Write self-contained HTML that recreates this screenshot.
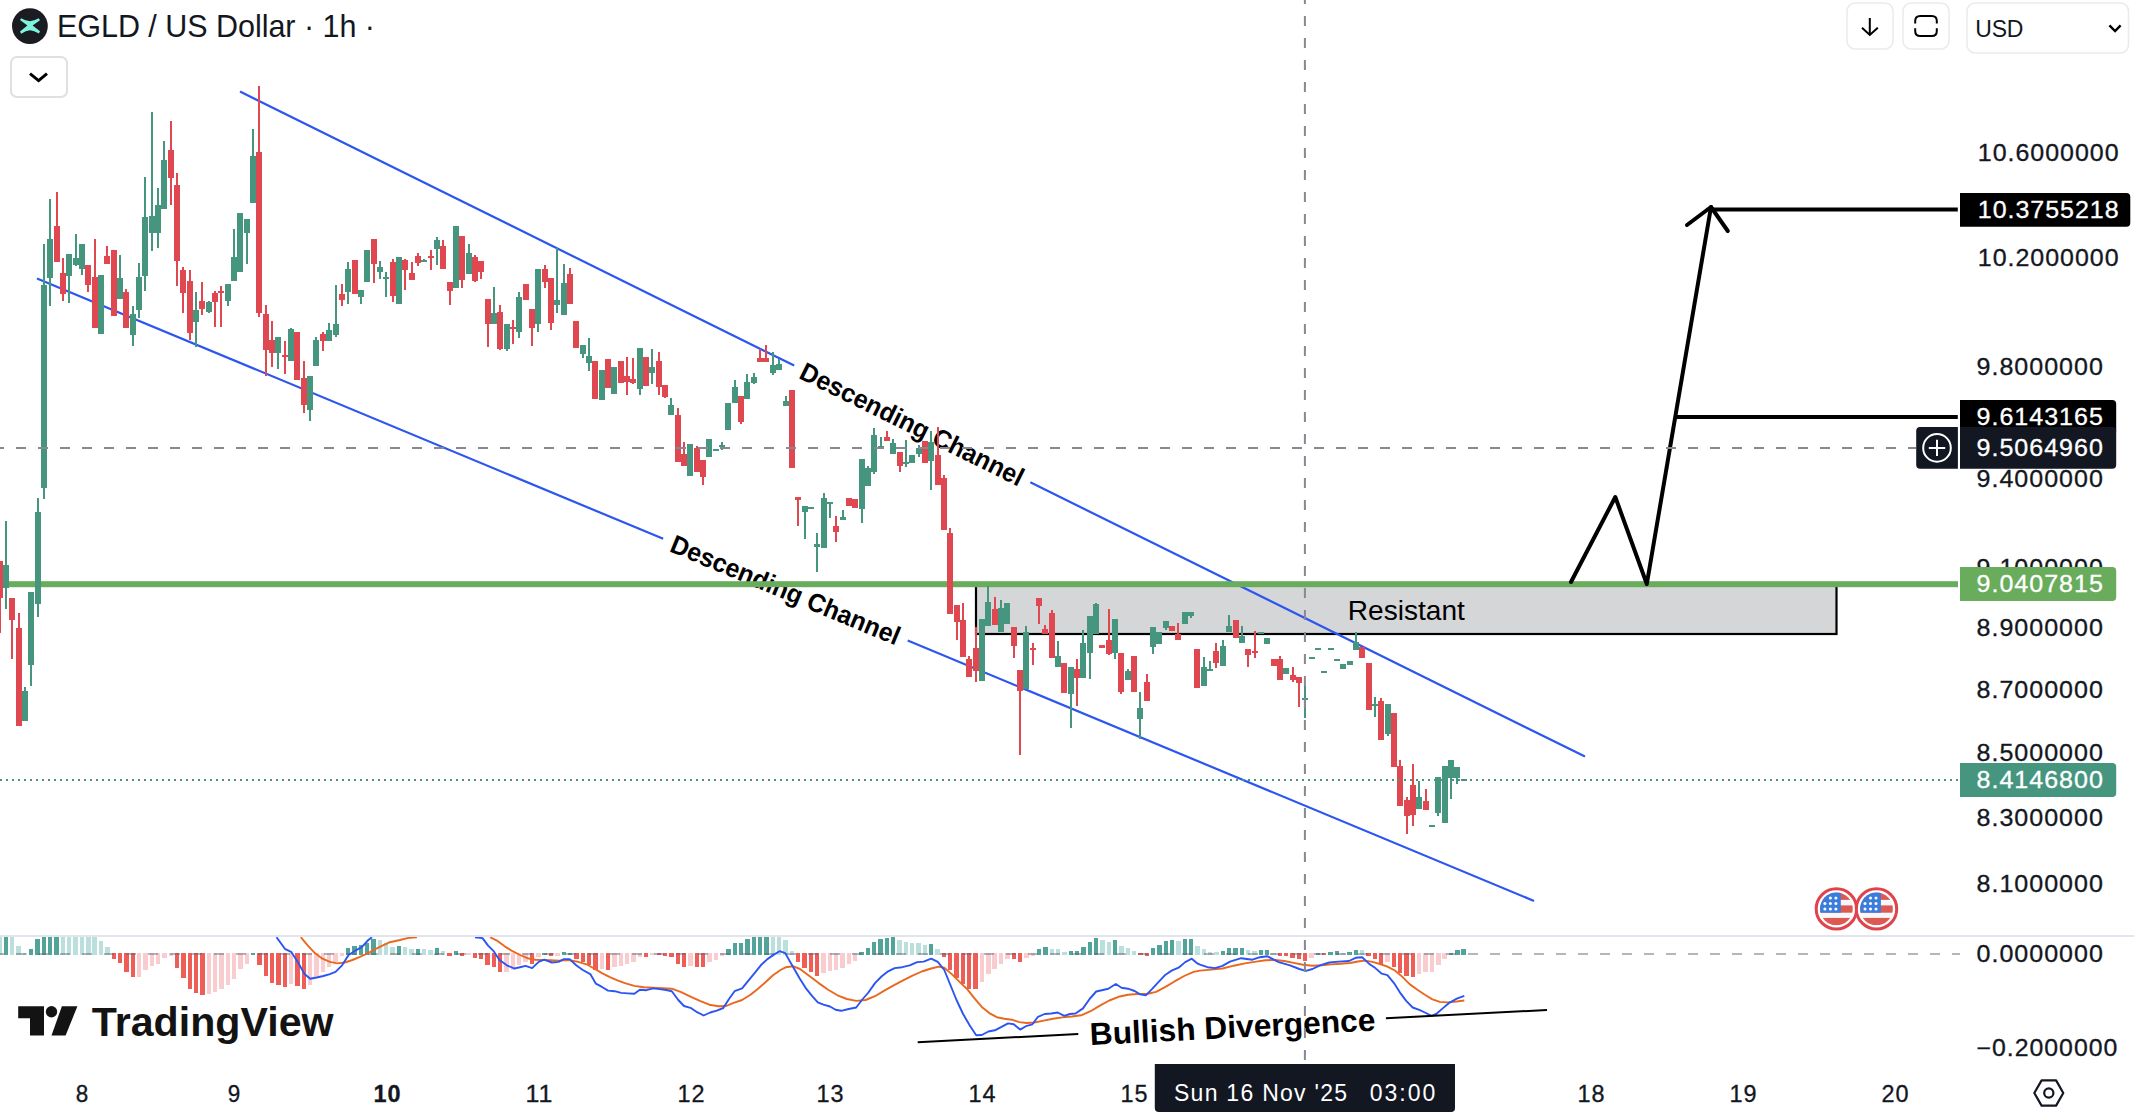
<!DOCTYPE html>
<html><head><meta charset="utf-8"><title>EGLD / US Dollar</title>
<style>html,body{margin:0;padding:0;background:#fff;overflow:hidden}svg{display:block}</style>
</head><body>
<svg width="2134" height="1116" viewBox="0 0 2134 1116" font-family="'Liberation Sans', sans-serif">
<rect width="2134" height="1116" fill="#fff"/>
<defs><clipPath id="cm"><rect x="0" y="0" width="2134" height="935"/></clipPath><clipPath id="cp"><rect x="0" y="937" width="2134" height="125"/></clipPath></defs>
<g clip-path="url(#cm)">
<rect x="976" y="584" width="860.5" height="50" fill="#d5d6d8" stroke="#000" stroke-width="2.2"/>
<line x1="240.0" y1="91.6" x2="794.2" y2="365.6" stroke="#2c56f0" stroke-width="2.2" />
<line x1="1030.3" y1="482.3" x2="1585.0" y2="756.6" stroke="#2c56f0" stroke-width="2.2" />
<line x1="37.0" y1="278.4" x2="663.2" y2="538.8" stroke="#2c56f0" stroke-width="2.2" />
<line x1="907.7" y1="640.5" x2="1534.0" y2="900.9" stroke="#2c56f0" stroke-width="2.2" />
<text transform="translate(912.2,424.0) rotate(26.31)" x="0" y="9.2" text-anchor="middle" font-size="26" font-weight="700" fill="#000" textLength="246" lengthAdjust="spacingAndGlyphs">Descending Channel</text>
<text transform="translate(785.5,589.7) rotate(22.58)" x="0" y="9.2" text-anchor="middle" font-size="26" font-weight="700" fill="#000" textLength="246" lengthAdjust="spacingAndGlyphs">Descending Channel</text>
<rect x="0" y="581.2" width="1958" height="6" fill="#68ac5c"/>
<polyline points="1571,582 1615.3,497 1646.8,584 1711,207" fill="none" stroke="#000" stroke-width="4" stroke-linejoin="round" stroke-linecap="round"/>
<polyline points="1687,225 1711,207 1727.8,231" fill="none" stroke="#000" stroke-width="4" stroke-linejoin="round" stroke-linecap="round"/>
<line x1="1711" y1="209.6" x2="1957.8" y2="209.6" stroke="#000" stroke-width="4"/>
<line x1="1677" y1="417" x2="1957.8" y2="417" stroke="#000" stroke-width="4"/>
<text x="1347.8" y="620" font-size="27.5" fill="#000" textLength="117" lengthAdjust="spacingAndGlyphs">Resistant</text>
<rect x="-1" y="561" width="2" height="72" fill="#df4850"/>
<rect x="-3" y="561" width="6" height="37" fill="#df4850"/>
<rect x="5" y="521" width="2" height="88" fill="#46967f"/>
<rect x="3" y="565" width="6" height="23" fill="#46967f"/>
<rect x="11" y="598" width="2" height="61" fill="#df4850"/>
<rect x="9" y="598" width="6" height="22" fill="#df4850"/>
<rect x="18" y="613" width="2" height="113" fill="#df4850"/>
<rect x="16" y="628" width="6" height="98" fill="#df4850"/>
<rect x="24" y="687" width="2" height="34" fill="#46967f"/>
<rect x="22" y="691" width="6" height="30" fill="#46967f"/>
<rect x="30" y="592" width="2" height="94" fill="#46967f"/>
<rect x="28" y="592" width="6" height="73" fill="#46967f"/>
<rect x="37" y="498" width="2" height="119" fill="#46967f"/>
<rect x="35" y="512" width="6" height="92" fill="#46967f"/>
<rect x="43" y="244" width="2" height="255" fill="#46967f"/>
<rect x="41" y="285" width="6" height="203" fill="#46967f"/>
<rect x="49" y="199" width="2" height="107" fill="#46967f"/>
<rect x="47" y="239" width="6" height="39" fill="#46967f"/>
<rect x="56" y="192" width="2" height="70" fill="#df4850"/>
<rect x="54" y="226" width="6" height="36" fill="#df4850"/>
<rect x="62" y="258" width="2" height="43" fill="#df4850"/>
<rect x="60" y="273" width="6" height="21" fill="#df4850"/>
<rect x="68" y="254" width="2" height="49" fill="#46967f"/>
<rect x="66" y="254" width="6" height="22" fill="#46967f"/>
<rect x="75" y="234" width="2" height="32" fill="#46967f"/>
<rect x="73" y="258" width="6" height="7" fill="#46967f"/>
<rect x="81" y="244" width="2" height="31" fill="#46967f"/>
<rect x="79" y="244" width="6" height="25" fill="#46967f"/>
<rect x="87" y="265" width="2" height="27" fill="#df4850"/>
<rect x="85" y="265" width="6" height="20" fill="#df4850"/>
<rect x="94" y="239" width="2" height="89" fill="#df4850"/>
<rect x="92" y="277" width="6" height="51" fill="#df4850"/>
<rect x="98" y="275" width="6" height="59" fill="#46967f"/>
<rect x="106" y="246" width="2" height="18" fill="#df4850"/>
<rect x="104" y="256" width="6" height="8" fill="#df4850"/>
<rect x="111" y="250" width="6" height="66" fill="#df4850"/>
<rect x="119" y="255" width="2" height="44" fill="#46967f"/>
<rect x="117" y="278" width="6" height="21" fill="#46967f"/>
<rect x="125" y="289" width="2" height="39" fill="#df4850"/>
<rect x="123" y="292" width="6" height="36" fill="#df4850"/>
<rect x="132" y="306" width="2" height="40" fill="#46967f"/>
<rect x="130" y="314" width="6" height="21" fill="#46967f"/>
<rect x="138" y="263" width="2" height="55" fill="#46967f"/>
<rect x="136" y="277" width="6" height="33" fill="#46967f"/>
<rect x="144" y="177" width="2" height="114" fill="#46967f"/>
<rect x="142" y="217" width="6" height="59" fill="#46967f"/>
<rect x="151" y="112" width="2" height="139" fill="#46967f"/>
<rect x="149" y="216" width="6" height="17" fill="#46967f"/>
<rect x="157" y="188" width="2" height="60" fill="#46967f"/>
<rect x="155" y="205" width="6" height="28" fill="#46967f"/>
<rect x="163" y="141" width="2" height="68" fill="#46967f"/>
<rect x="161" y="160" width="6" height="49" fill="#46967f"/>
<rect x="170" y="121" width="2" height="84" fill="#df4850"/>
<rect x="168" y="150" width="6" height="28" fill="#df4850"/>
<rect x="176" y="173" width="2" height="113" fill="#df4850"/>
<rect x="174" y="185" width="6" height="76" fill="#df4850"/>
<rect x="182" y="267" width="2" height="46" fill="#df4850"/>
<rect x="180" y="270" width="6" height="23" fill="#df4850"/>
<rect x="189" y="270" width="2" height="70" fill="#df4850"/>
<rect x="187" y="281" width="6" height="52" fill="#df4850"/>
<rect x="195" y="292" width="2" height="55" fill="#46967f"/>
<rect x="193" y="310" width="6" height="12" fill="#46967f"/>
<rect x="201" y="282" width="2" height="33" fill="#df4850"/>
<rect x="199" y="301" width="6" height="8" fill="#df4850"/>
<rect x="208" y="301" width="2" height="12" fill="#46967f"/>
<rect x="206" y="302" width="6" height="10" fill="#46967f"/>
<rect x="214" y="291" width="2" height="36" fill="#df4850"/>
<rect x="212" y="293" width="6" height="9" fill="#df4850"/>
<rect x="220" y="286" width="2" height="41" fill="#df4850"/>
<rect x="218" y="291" width="6" height="2" fill="#df4850"/>
<rect x="227" y="284" width="2" height="22" fill="#46967f"/>
<rect x="225" y="284" width="6" height="17" fill="#46967f"/>
<rect x="233" y="229" width="2" height="52" fill="#46967f"/>
<rect x="231" y="257" width="6" height="24" fill="#46967f"/>
<rect x="237" y="213" width="6" height="59" fill="#46967f"/>
<rect x="246" y="219" width="2" height="45" fill="#46967f"/>
<rect x="244" y="219" width="6" height="14" fill="#46967f"/>
<rect x="252" y="129" width="2" height="74" fill="#46967f"/>
<rect x="250" y="156" width="6" height="47" fill="#46967f"/>
<rect x="258" y="86" width="2" height="231" fill="#df4850"/>
<rect x="256" y="152" width="6" height="161" fill="#df4850"/>
<rect x="265" y="305" width="2" height="71" fill="#df4850"/>
<rect x="263" y="314" width="6" height="36" fill="#df4850"/>
<rect x="271" y="321" width="2" height="46" fill="#df4850"/>
<rect x="269" y="340" width="6" height="13" fill="#df4850"/>
<rect x="277" y="337" width="2" height="32" fill="#46967f"/>
<rect x="275" y="337" width="6" height="16" fill="#46967f"/>
<rect x="284" y="341" width="2" height="33" fill="#df4850"/>
<rect x="282" y="355" width="6" height="2" fill="#df4850"/>
<rect x="290" y="328" width="2" height="33" fill="#46967f"/>
<rect x="288" y="329" width="6" height="32" fill="#46967f"/>
<rect x="294" y="332" width="6" height="48" fill="#df4850"/>
<rect x="303" y="361" width="2" height="52" fill="#df4850"/>
<rect x="301" y="378" width="6" height="27" fill="#df4850"/>
<rect x="309" y="376" width="2" height="45" fill="#46967f"/>
<rect x="307" y="376" width="6" height="34" fill="#46967f"/>
<rect x="315" y="337" width="2" height="29" fill="#46967f"/>
<rect x="313" y="340" width="6" height="26" fill="#46967f"/>
<rect x="322" y="332" width="2" height="19" fill="#df4850"/>
<rect x="320" y="334" width="6" height="7" fill="#df4850"/>
<rect x="328" y="323" width="2" height="18" fill="#46967f"/>
<rect x="326" y="330" width="6" height="11" fill="#46967f"/>
<rect x="335" y="285" width="2" height="52" fill="#46967f"/>
<rect x="333" y="324" width="6" height="11" fill="#46967f"/>
<rect x="341" y="284" width="2" height="22" fill="#df4850"/>
<rect x="339" y="294" width="6" height="6" fill="#df4850"/>
<rect x="347" y="262" width="2" height="42" fill="#46967f"/>
<rect x="345" y="269" width="6" height="23" fill="#46967f"/>
<rect x="352" y="260" width="6" height="34" fill="#df4850"/>
<rect x="360" y="290" width="2" height="14" fill="#46967f"/>
<rect x="358" y="290" width="6" height="7" fill="#46967f"/>
<rect x="364" y="250" width="6" height="32" fill="#46967f"/>
<rect x="373" y="239" width="2" height="44" fill="#df4850"/>
<rect x="371" y="239" width="6" height="25" fill="#df4850"/>
<rect x="379" y="261" width="2" height="18" fill="#46967f"/>
<rect x="377" y="267" width="6" height="5" fill="#46967f"/>
<rect x="385" y="272" width="2" height="25" fill="#46967f"/>
<rect x="383" y="277" width="6" height="2" fill="#46967f"/>
<rect x="392" y="259" width="2" height="43" fill="#df4850"/>
<rect x="390" y="262" width="6" height="34" fill="#df4850"/>
<rect x="396" y="257" width="6" height="47" fill="#46967f"/>
<rect x="404" y="259" width="2" height="31" fill="#df4850"/>
<rect x="402" y="260" width="6" height="10" fill="#df4850"/>
<rect x="411" y="262" width="2" height="18" fill="#df4850"/>
<rect x="409" y="273" width="6" height="7" fill="#df4850"/>
<rect x="417" y="253" width="2" height="13" fill="#df4850"/>
<rect x="415" y="256" width="6" height="7" fill="#df4850"/>
<rect x="423" y="259" width="2" height="3" fill="#46967f"/>
<rect x="421" y="260" width="6" height="2" fill="#46967f"/>
<rect x="430" y="250" width="2" height="20" fill="#df4850"/>
<rect x="428" y="256" width="6" height="2" fill="#df4850"/>
<rect x="436" y="237" width="2" height="28" fill="#46967f"/>
<rect x="434" y="240" width="6" height="9" fill="#46967f"/>
<rect x="442" y="240" width="2" height="29" fill="#df4850"/>
<rect x="440" y="246" width="6" height="23" fill="#df4850"/>
<rect x="449" y="282" width="2" height="23" fill="#df4850"/>
<rect x="447" y="282" width="6" height="9" fill="#df4850"/>
<rect x="453" y="226" width="6" height="62" fill="#46967f"/>
<rect x="461" y="236" width="2" height="52" fill="#df4850"/>
<rect x="459" y="236" width="6" height="44" fill="#df4850"/>
<rect x="468" y="244" width="2" height="30" fill="#46967f"/>
<rect x="466" y="253" width="6" height="21" fill="#46967f"/>
<rect x="474" y="255" width="2" height="27" fill="#df4850"/>
<rect x="472" y="257" width="6" height="24" fill="#df4850"/>
<rect x="480" y="261" width="2" height="18" fill="#df4850"/>
<rect x="478" y="261" width="6" height="11" fill="#df4850"/>
<rect x="487" y="299" width="2" height="48" fill="#df4850"/>
<rect x="485" y="299" width="6" height="25" fill="#df4850"/>
<rect x="493" y="287" width="2" height="37" fill="#46967f"/>
<rect x="491" y="313" width="6" height="11" fill="#46967f"/>
<rect x="499" y="305" width="2" height="45" fill="#df4850"/>
<rect x="497" y="312" width="6" height="37" fill="#df4850"/>
<rect x="506" y="324" width="2" height="27" fill="#46967f"/>
<rect x="504" y="324" width="6" height="25" fill="#46967f"/>
<rect x="512" y="320" width="2" height="24" fill="#df4850"/>
<rect x="510" y="327" width="6" height="2" fill="#df4850"/>
<rect x="518" y="292" width="2" height="46" fill="#46967f"/>
<rect x="516" y="297" width="6" height="35" fill="#46967f"/>
<rect x="523" y="284" width="6" height="16" fill="#df4850"/>
<rect x="531" y="309" width="2" height="37" fill="#df4850"/>
<rect x="529" y="309" width="6" height="19" fill="#df4850"/>
<rect x="537" y="269" width="2" height="63" fill="#46967f"/>
<rect x="535" y="269" width="6" height="55" fill="#46967f"/>
<rect x="544" y="265" width="2" height="23" fill="#df4850"/>
<rect x="542" y="269" width="6" height="13" fill="#df4850"/>
<rect x="550" y="278" width="2" height="52" fill="#df4850"/>
<rect x="548" y="278" width="6" height="45" fill="#df4850"/>
<rect x="556" y="248" width="2" height="65" fill="#46967f"/>
<rect x="554" y="300" width="6" height="5" fill="#46967f"/>
<rect x="563" y="264" width="2" height="51" fill="#46967f"/>
<rect x="561" y="283" width="6" height="32" fill="#46967f"/>
<rect x="569" y="268" width="2" height="36" fill="#df4850"/>
<rect x="567" y="274" width="6" height="30" fill="#df4850"/>
<rect x="573" y="321" width="6" height="27" fill="#df4850"/>
<rect x="582" y="345" width="2" height="13" fill="#46967f"/>
<rect x="580" y="345" width="6" height="9" fill="#46967f"/>
<rect x="588" y="338" width="2" height="33" fill="#46967f"/>
<rect x="586" y="356" width="6" height="7" fill="#46967f"/>
<rect x="592" y="361" width="6" height="38" fill="#df4850"/>
<rect x="599" y="370" width="6" height="30" fill="#46967f"/>
<rect x="605" y="359" width="6" height="29" fill="#df4850"/>
<rect x="611" y="367" width="6" height="27" fill="#46967f"/>
<rect x="618" y="361" width="6" height="22" fill="#df4850"/>
<rect x="626" y="357" width="2" height="38" fill="#df4850"/>
<rect x="624" y="376" width="6" height="6" fill="#df4850"/>
<rect x="632" y="358" width="2" height="26" fill="#df4850"/>
<rect x="630" y="379" width="6" height="4" fill="#df4850"/>
<rect x="639" y="348" width="2" height="47" fill="#46967f"/>
<rect x="637" y="348" width="6" height="41" fill="#46967f"/>
<rect x="643" y="357" width="6" height="29" fill="#df4850"/>
<rect x="651" y="349" width="2" height="35" fill="#46967f"/>
<rect x="649" y="367" width="6" height="6" fill="#46967f"/>
<rect x="658" y="352" width="2" height="43" fill="#df4850"/>
<rect x="656" y="361" width="6" height="26" fill="#df4850"/>
<rect x="664" y="385" width="2" height="13" fill="#df4850"/>
<rect x="662" y="385" width="6" height="12" fill="#df4850"/>
<rect x="670" y="398" width="2" height="17" fill="#46967f"/>
<rect x="668" y="405" width="6" height="10" fill="#46967f"/>
<rect x="677" y="408" width="2" height="54" fill="#df4850"/>
<rect x="675" y="415" width="6" height="47" fill="#df4850"/>
<rect x="683" y="442" width="2" height="24" fill="#df4850"/>
<rect x="681" y="454" width="6" height="12" fill="#df4850"/>
<rect x="687" y="444" width="6" height="32" fill="#46967f"/>
<rect x="696" y="446" width="2" height="26" fill="#df4850"/>
<rect x="694" y="448" width="6" height="24" fill="#df4850"/>
<rect x="702" y="460" width="2" height="25" fill="#df4850"/>
<rect x="700" y="460" width="6" height="17" fill="#df4850"/>
<rect x="706" y="439" width="6" height="18" fill="#46967f"/>
<rect x="713" y="449" width="6" height="2" fill="#46967f"/>
<rect x="721" y="442" width="2" height="8" fill="#46967f"/>
<rect x="719" y="445" width="6" height="2" fill="#46967f"/>
<rect x="725" y="403" width="6" height="27" fill="#46967f"/>
<rect x="734" y="380" width="2" height="23" fill="#46967f"/>
<rect x="732" y="387" width="6" height="16" fill="#46967f"/>
<rect x="740" y="396" width="2" height="28" fill="#df4850"/>
<rect x="738" y="396" width="6" height="26" fill="#df4850"/>
<rect x="746" y="374" width="2" height="25" fill="#46967f"/>
<rect x="744" y="382" width="6" height="17" fill="#46967f"/>
<rect x="753" y="373" width="2" height="11" fill="#46967f"/>
<rect x="751" y="377" width="6" height="6" fill="#46967f"/>
<rect x="759" y="349" width="2" height="13" fill="#df4850"/>
<rect x="757" y="358" width="6" height="4" fill="#df4850"/>
<rect x="765" y="345" width="2" height="17" fill="#df4850"/>
<rect x="763" y="358" width="6" height="4" fill="#df4850"/>
<rect x="772" y="352" width="2" height="23" fill="#46967f"/>
<rect x="770" y="365" width="6" height="8" fill="#46967f"/>
<rect x="778" y="359" width="2" height="11" fill="#46967f"/>
<rect x="776" y="364" width="6" height="6" fill="#46967f"/>
<rect x="785" y="396" width="2" height="10" fill="#46967f"/>
<rect x="783" y="401" width="6" height="5" fill="#46967f"/>
<rect x="789" y="390" width="6" height="78" fill="#df4850"/>
<rect x="797" y="497" width="2" height="29" fill="#df4850"/>
<rect x="795" y="497" width="6" height="3" fill="#df4850"/>
<rect x="804" y="506" width="2" height="33" fill="#46967f"/>
<rect x="802" y="506" width="6" height="6" fill="#46967f"/>
<rect x="808" y="507" width="6" height="2" fill="#46967f"/>
<rect x="816" y="533" width="2" height="39" fill="#46967f"/>
<rect x="814" y="544" width="6" height="3" fill="#46967f"/>
<rect x="823" y="493" width="2" height="55" fill="#46967f"/>
<rect x="821" y="498" width="6" height="50" fill="#46967f"/>
<rect x="829" y="502" width="2" height="16" fill="#46967f"/>
<rect x="827" y="502" width="6" height="2" fill="#46967f"/>
<rect x="835" y="516" width="2" height="26" fill="#df4850"/>
<rect x="833" y="526" width="6" height="6" fill="#df4850"/>
<rect x="842" y="510" width="2" height="10" fill="#46967f"/>
<rect x="840" y="517" width="6" height="3" fill="#46967f"/>
<rect x="846" y="498" width="6" height="8" fill="#df4850"/>
<rect x="852" y="499" width="6" height="9" fill="#df4850"/>
<rect x="861" y="459" width="2" height="64" fill="#46967f"/>
<rect x="859" y="459" width="6" height="50" fill="#46967f"/>
<rect x="867" y="466" width="2" height="20" fill="#46967f"/>
<rect x="865" y="468" width="6" height="18" fill="#46967f"/>
<rect x="873" y="428" width="2" height="46" fill="#46967f"/>
<rect x="871" y="435" width="6" height="37" fill="#46967f"/>
<rect x="880" y="437" width="2" height="11" fill="#46967f"/>
<rect x="878" y="446" width="6" height="2" fill="#46967f"/>
<rect x="886" y="431" width="2" height="10" fill="#df4850"/>
<rect x="884" y="437" width="6" height="4" fill="#df4850"/>
<rect x="892" y="439" width="2" height="15" fill="#46967f"/>
<rect x="890" y="443" width="6" height="11" fill="#46967f"/>
<rect x="899" y="452" width="2" height="20" fill="#df4850"/>
<rect x="897" y="452" width="6" height="14" fill="#df4850"/>
<rect x="905" y="440" width="2" height="27" fill="#46967f"/>
<rect x="903" y="462" width="6" height="2" fill="#46967f"/>
<rect x="909" y="455" width="6" height="8" fill="#46967f"/>
<rect x="918" y="445" width="2" height="12" fill="#46967f"/>
<rect x="916" y="448" width="6" height="6" fill="#46967f"/>
<rect x="922" y="441" width="6" height="22" fill="#df4850"/>
<rect x="930" y="431" width="2" height="59" fill="#46967f"/>
<rect x="928" y="442" width="6" height="19" fill="#46967f"/>
<rect x="937" y="427" width="2" height="58" fill="#df4850"/>
<rect x="935" y="455" width="6" height="30" fill="#df4850"/>
<rect x="943" y="475" width="2" height="55" fill="#df4850"/>
<rect x="941" y="478" width="6" height="52" fill="#df4850"/>
<rect x="949" y="528" width="2" height="86" fill="#df4850"/>
<rect x="947" y="533" width="6" height="81" fill="#df4850"/>
<rect x="956" y="605" width="2" height="35" fill="#df4850"/>
<rect x="954" y="605" width="6" height="17" fill="#df4850"/>
<rect x="962" y="603" width="2" height="54" fill="#df4850"/>
<rect x="960" y="620" width="6" height="37" fill="#df4850"/>
<rect x="968" y="656" width="2" height="21" fill="#df4850"/>
<rect x="966" y="659" width="6" height="18" fill="#df4850"/>
<rect x="975" y="627" width="2" height="55" fill="#df4850"/>
<rect x="973" y="648" width="6" height="23" fill="#df4850"/>
<rect x="979" y="619" width="6" height="62" fill="#46967f"/>
<rect x="987" y="586" width="2" height="40" fill="#46967f"/>
<rect x="985" y="602" width="6" height="24" fill="#46967f"/>
<rect x="994" y="597" width="2" height="28" fill="#df4850"/>
<rect x="992" y="609" width="6" height="16" fill="#df4850"/>
<rect x="1000" y="600" width="2" height="32" fill="#46967f"/>
<rect x="998" y="608" width="6" height="24" fill="#46967f"/>
<rect x="1004" y="603" width="6" height="21" fill="#46967f"/>
<rect x="1013" y="627" width="2" height="31" fill="#df4850"/>
<rect x="1011" y="627" width="6" height="19" fill="#df4850"/>
<rect x="1019" y="670" width="2" height="85" fill="#df4850"/>
<rect x="1017" y="670" width="6" height="21" fill="#df4850"/>
<rect x="1025" y="626" width="2" height="63" fill="#46967f"/>
<rect x="1023" y="632" width="6" height="57" fill="#46967f"/>
<rect x="1032" y="643" width="2" height="22" fill="#df4850"/>
<rect x="1030" y="648" width="6" height="2" fill="#df4850"/>
<rect x="1038" y="598" width="2" height="26" fill="#df4850"/>
<rect x="1036" y="598" width="6" height="8" fill="#df4850"/>
<rect x="1044" y="625" width="2" height="9" fill="#df4850"/>
<rect x="1042" y="629" width="6" height="5" fill="#df4850"/>
<rect x="1051" y="610" width="2" height="48" fill="#df4850"/>
<rect x="1049" y="613" width="6" height="45" fill="#df4850"/>
<rect x="1057" y="641" width="2" height="26" fill="#46967f"/>
<rect x="1055" y="656" width="6" height="11" fill="#46967f"/>
<rect x="1061" y="663" width="6" height="30" fill="#df4850"/>
<rect x="1070" y="667" width="2" height="61" fill="#46967f"/>
<rect x="1068" y="667" width="6" height="27" fill="#46967f"/>
<rect x="1076" y="659" width="2" height="47" fill="#df4850"/>
<rect x="1074" y="669" width="6" height="9" fill="#df4850"/>
<rect x="1082" y="630" width="2" height="48" fill="#46967f"/>
<rect x="1080" y="643" width="6" height="35" fill="#46967f"/>
<rect x="1089" y="616" width="2" height="63" fill="#46967f"/>
<rect x="1087" y="616" width="6" height="37" fill="#46967f"/>
<rect x="1095" y="603" width="2" height="31" fill="#46967f"/>
<rect x="1093" y="604" width="6" height="30" fill="#46967f"/>
<rect x="1099" y="645" width="6" height="3" fill="#df4850"/>
<rect x="1108" y="609" width="2" height="46" fill="#df4850"/>
<rect x="1106" y="640" width="6" height="14" fill="#df4850"/>
<rect x="1114" y="619" width="2" height="40" fill="#46967f"/>
<rect x="1112" y="619" width="6" height="34" fill="#46967f"/>
<rect x="1120" y="653" width="2" height="41" fill="#df4850"/>
<rect x="1118" y="653" width="6" height="39" fill="#df4850"/>
<rect x="1127" y="669" width="2" height="11" fill="#46967f"/>
<rect x="1125" y="671" width="6" height="9" fill="#46967f"/>
<rect x="1131" y="656" width="6" height="36" fill="#df4850"/>
<rect x="1139" y="692" width="2" height="47" fill="#46967f"/>
<rect x="1137" y="708" width="6" height="11" fill="#46967f"/>
<rect x="1146" y="674" width="2" height="27" fill="#df4850"/>
<rect x="1144" y="682" width="6" height="19" fill="#df4850"/>
<rect x="1152" y="627" width="2" height="27" fill="#46967f"/>
<rect x="1150" y="627" width="6" height="20" fill="#46967f"/>
<rect x="1156" y="632" width="6" height="12" fill="#46967f"/>
<rect x="1165" y="621" width="2" height="9" fill="#46967f"/>
<rect x="1163" y="621" width="6" height="7" fill="#46967f"/>
<rect x="1169" y="626" width="6" height="5" fill="#df4850"/>
<rect x="1177" y="623" width="2" height="17" fill="#df4850"/>
<rect x="1175" y="634" width="6" height="6" fill="#df4850"/>
<rect x="1182" y="612" width="6" height="12" fill="#46967f"/>
<rect x="1190" y="612" width="2" height="6" fill="#46967f"/>
<rect x="1188" y="612" width="6" height="4" fill="#46967f"/>
<rect x="1194" y="649" width="6" height="39" fill="#df4850"/>
<rect x="1203" y="657" width="2" height="29" fill="#46967f"/>
<rect x="1201" y="667" width="6" height="19" fill="#46967f"/>
<rect x="1209" y="661" width="2" height="10" fill="#46967f"/>
<rect x="1207" y="669" width="6" height="2" fill="#46967f"/>
<rect x="1215" y="643" width="2" height="25" fill="#df4850"/>
<rect x="1213" y="651" width="6" height="12" fill="#df4850"/>
<rect x="1222" y="640" width="2" height="26" fill="#46967f"/>
<rect x="1220" y="646" width="6" height="20" fill="#46967f"/>
<rect x="1228" y="615" width="2" height="17" fill="#46967f"/>
<rect x="1226" y="626" width="6" height="6" fill="#46967f"/>
<rect x="1233" y="620" width="6" height="18" fill="#df4850"/>
<rect x="1241" y="626" width="2" height="17" fill="#46967f"/>
<rect x="1239" y="636" width="6" height="7" fill="#46967f"/>
<rect x="1247" y="649" width="2" height="18" fill="#df4850"/>
<rect x="1245" y="649" width="6" height="6" fill="#df4850"/>
<rect x="1254" y="631" width="2" height="27" fill="#df4850"/>
<rect x="1252" y="651" width="6" height="2" fill="#df4850"/>
<rect x="1258" y="632" width="6" height="2" fill="#46967f"/>
<rect x="1264" y="638" width="6" height="6" fill="#46967f"/>
<rect x="1271" y="659" width="6" height="7" fill="#df4850"/>
<rect x="1279" y="656" width="2" height="24" fill="#df4850"/>
<rect x="1277" y="659" width="6" height="21" fill="#df4850"/>
<rect x="1283" y="668" width="6" height="6" fill="#46967f"/>
<rect x="1292" y="667" width="2" height="15" fill="#df4850"/>
<rect x="1290" y="675" width="6" height="5" fill="#df4850"/>
<rect x="1298" y="677" width="2" height="30" fill="#df4850"/>
<rect x="1296" y="677" width="6" height="6" fill="#df4850"/>
<rect x="1304" y="686" width="2" height="32" fill="#46967f"/>
<rect x="1302" y="698" width="6" height="2" fill="#46967f"/>
<rect x="1309" y="657" width="6" height="2" fill="#46967f"/>
<rect x="1315" y="648" width="6" height="2" fill="#46967f"/>
<rect x="1321" y="671" width="6" height="2" fill="#46967f"/>
<rect x="1328" y="648" width="6" height="2" fill="#46967f"/>
<rect x="1334" y="659" width="6" height="2" fill="#46967f"/>
<rect x="1340" y="664" width="6" height="5" fill="#46967f"/>
<rect x="1347" y="661" width="6" height="4" fill="#46967f"/>
<rect x="1355" y="632" width="2" height="18" fill="#46967f"/>
<rect x="1353" y="642" width="6" height="8" fill="#46967f"/>
<rect x="1359" y="647" width="6" height="11" fill="#df4850"/>
<rect x="1366" y="663" width="6" height="47" fill="#df4850"/>
<rect x="1374" y="697" width="2" height="20" fill="#46967f"/>
<rect x="1372" y="704" width="6" height="2" fill="#46967f"/>
<rect x="1380" y="698" width="2" height="42" fill="#df4850"/>
<rect x="1378" y="701" width="6" height="39" fill="#df4850"/>
<rect x="1387" y="704" width="2" height="32" fill="#46967f"/>
<rect x="1385" y="704" width="6" height="30" fill="#46967f"/>
<rect x="1391" y="713" width="6" height="54" fill="#df4850"/>
<rect x="1399" y="760" width="2" height="46" fill="#df4850"/>
<rect x="1397" y="766" width="6" height="40" fill="#df4850"/>
<rect x="1406" y="797" width="2" height="37" fill="#df4850"/>
<rect x="1404" y="800" width="6" height="16" fill="#df4850"/>
<rect x="1412" y="764" width="2" height="62" fill="#df4850"/>
<rect x="1410" y="785" width="6" height="30" fill="#df4850"/>
<rect x="1418" y="781" width="2" height="28" fill="#46967f"/>
<rect x="1416" y="797" width="6" height="12" fill="#46967f"/>
<rect x="1425" y="789" width="2" height="21" fill="#df4850"/>
<rect x="1423" y="801" width="6" height="9" fill="#df4850"/>
<rect x="1429" y="825" width="6" height="2" fill="#46967f"/>
<rect x="1437" y="777" width="2" height="39" fill="#46967f"/>
<rect x="1435" y="777" width="6" height="36" fill="#46967f"/>
<rect x="1442" y="766" width="6" height="57" fill="#46967f"/>
<rect x="1450" y="760" width="2" height="39" fill="#46967f"/>
<rect x="1448" y="760" width="6" height="18" fill="#46967f"/>
<rect x="1456" y="767" width="2" height="17" fill="#46967f"/>
<rect x="1454" y="767" width="6" height="11" fill="#46967f"/>
<rect x="1461" y="779" width="6" height="2" fill="#46967f"/>
<line x1="0" y1="780" x2="1960" y2="780" stroke="#46967f" stroke-width="2" stroke-dasharray="2 4"/>
<clipPath id="f1"><circle cx="1836.4" cy="908.9" r="16.3"/></clipPath>
<circle cx="1836.4" cy="908.9" r="20.2" fill="#fff" stroke="#e0434c" stroke-width="3"/>
<g clip-path="url(#f1)">
<rect x="1819.4" y="891.9" width="34" height="34" fill="#f8f8fc"/>
<rect x="1819.4" y="892.6" width="34" height="7.300000000000001" fill="#dc5a52"/>
<rect x="1819.4" y="905.4" width="34" height="7.3" fill="#dc5a52"/>
<rect x="1819.4" y="917.9" width="34" height="7.300000000000001" fill="#dc5a52"/>
<rect x="1819.4" y="891.9" width="21.4" height="20.8" fill="#3b7ddd"/>
<circle cx="1830.4" cy="897.9" r="1.5" fill="#fff"/>
<circle cx="1835.9" cy="897.9" r="1.5" fill="#fff"/>
<circle cx="1824.9" cy="903.4" r="1.5" fill="#fff"/>
<circle cx="1830.4" cy="903.4" r="1.5" fill="#fff"/>
<circle cx="1835.9" cy="903.4" r="1.5" fill="#fff"/>
<circle cx="1824.9" cy="908.9" r="1.5" fill="#fff"/>
<circle cx="1830.4" cy="908.9" r="1.5" fill="#fff"/>
<circle cx="1835.9" cy="908.9" r="1.5" fill="#fff"/>
</g>
<clipPath id="f2"><circle cx="1876.5" cy="908.9" r="16.3"/></clipPath>
<circle cx="1876.5" cy="908.9" r="20.2" fill="#fff" stroke="#e0434c" stroke-width="3"/>
<g clip-path="url(#f2)">
<rect x="1859.5" y="891.9" width="34" height="34" fill="#f8f8fc"/>
<rect x="1859.5" y="892.6" width="34" height="7.300000000000001" fill="#dc5a52"/>
<rect x="1859.5" y="905.4" width="34" height="7.3" fill="#dc5a52"/>
<rect x="1859.5" y="917.9" width="34" height="7.300000000000001" fill="#dc5a52"/>
<rect x="1859.5" y="891.9" width="21.4" height="20.8" fill="#3b7ddd"/>
<circle cx="1870.5" cy="897.9" r="1.5" fill="#fff"/>
<circle cx="1876.0" cy="897.9" r="1.5" fill="#fff"/>
<circle cx="1865.0" cy="903.4" r="1.5" fill="#fff"/>
<circle cx="1870.5" cy="903.4" r="1.5" fill="#fff"/>
<circle cx="1876.0" cy="903.4" r="1.5" fill="#fff"/>
<circle cx="1865.0" cy="908.9" r="1.5" fill="#fff"/>
<circle cx="1870.5" cy="908.9" r="1.5" fill="#fff"/>
<circle cx="1876.0" cy="908.9" r="1.5" fill="#fff"/>
</g>
</g>
<rect x="0" y="935.1" width="2134" height="1.8" fill="#e0e3eb"/>
<g clip-path="url(#cp)">
<rect x="-3" y="937" width="5" height="18" fill="#badfdc"/>
<rect x="4" y="937" width="4" height="18" fill="#52a49a"/>
<rect x="10" y="937" width="4" height="18" fill="#badfdc"/>
<rect x="16" y="946" width="5" height="9" fill="#badfdc"/>
<rect x="23" y="953" width="4" height="2" fill="#badfdc"/>
<rect x="29" y="949" width="4" height="6" fill="#52a49a"/>
<rect x="35" y="939" width="5" height="16" fill="#52a49a"/>
<rect x="42" y="937" width="4" height="18" fill="#52a49a"/>
<rect x="48" y="937" width="4" height="18" fill="#52a49a"/>
<rect x="54" y="937" width="5" height="18" fill="#52a49a"/>
<rect x="61" y="937" width="4" height="18" fill="#badfdc"/>
<rect x="67" y="937" width="4" height="18" fill="#badfdc"/>
<rect x="73" y="937" width="5" height="18" fill="#badfdc"/>
<rect x="80" y="937" width="4" height="18" fill="#badfdc"/>
<rect x="86" y="937" width="5" height="18" fill="#badfdc"/>
<rect x="92" y="937" width="5" height="18" fill="#badfdc"/>
<rect x="99" y="941" width="4" height="14" fill="#badfdc"/>
<rect x="105" y="947" width="5" height="8" fill="#badfdc"/>
<rect x="112" y="953" width="4" height="6" fill="#ee5e56"/>
<rect x="118" y="953" width="4" height="10" fill="#ee5e56"/>
<rect x="124" y="953" width="5" height="19" fill="#ee5e56"/>
<rect x="131" y="953" width="4" height="24" fill="#ee5e56"/>
<rect x="137" y="953" width="4" height="24" fill="#f9ccd0"/>
<rect x="143" y="953" width="5" height="17" fill="#f9ccd0"/>
<rect x="150" y="953" width="4" height="13" fill="#f9ccd0"/>
<rect x="156" y="953" width="4" height="11" fill="#f9ccd0"/>
<rect x="162" y="953" width="5" height="5" fill="#f9ccd0"/>
<rect x="169" y="953" width="4" height="3" fill="#f9ccd0"/>
<rect x="175" y="953" width="4" height="15" fill="#ee5e56"/>
<rect x="181" y="953" width="5" height="25" fill="#ee5e56"/>
<rect x="188" y="953" width="4" height="36" fill="#ee5e56"/>
<rect x="194" y="953" width="4" height="40" fill="#ee5e56"/>
<rect x="200" y="953" width="5" height="42" fill="#ee5e56"/>
<rect x="207" y="953" width="4" height="41" fill="#f9ccd0"/>
<rect x="213" y="953" width="4" height="39" fill="#f9ccd0"/>
<rect x="219" y="953" width="5" height="36" fill="#f9ccd0"/>
<rect x="226" y="953" width="4" height="32" fill="#f9ccd0"/>
<rect x="232" y="953" width="4" height="26" fill="#f9ccd0"/>
<rect x="238" y="953" width="5" height="16" fill="#f9ccd0"/>
<rect x="245" y="953" width="4" height="11" fill="#f9ccd0"/>
<rect x="251" y="953" width="4" height="2" fill="#52a49a"/>
<rect x="257" y="953" width="5" height="12" fill="#ee5e56"/>
<rect x="264" y="953" width="4" height="23" fill="#ee5e56"/>
<rect x="270" y="953" width="4" height="30" fill="#ee5e56"/>
<rect x="276" y="953" width="5" height="32" fill="#ee5e56"/>
<rect x="283" y="953" width="4" height="34" fill="#ee5e56"/>
<rect x="289" y="953" width="4" height="31" fill="#f9ccd0"/>
<rect x="295" y="953" width="5" height="33" fill="#ee5e56"/>
<rect x="302" y="953" width="4" height="36" fill="#ee5e56"/>
<rect x="308" y="953" width="4" height="32" fill="#f9ccd0"/>
<rect x="314" y="953" width="5" height="25" fill="#f9ccd0"/>
<rect x="321" y="953" width="4" height="19" fill="#f9ccd0"/>
<rect x="327" y="953" width="4" height="14" fill="#f9ccd0"/>
<rect x="333" y="953" width="5" height="9" fill="#f9ccd0"/>
<rect x="340" y="953" width="4" height="3" fill="#f9ccd0"/>
<rect x="346" y="948" width="4" height="7" fill="#52a49a"/>
<rect x="352" y="946" width="5" height="9" fill="#52a49a"/>
<rect x="359" y="945" width="4" height="10" fill="#52a49a"/>
<rect x="365" y="943" width="4" height="12" fill="#52a49a"/>
<rect x="371" y="939" width="5" height="16" fill="#52a49a"/>
<rect x="378" y="940" width="4" height="15" fill="#badfdc"/>
<rect x="384" y="943" width="4" height="12" fill="#badfdc"/>
<rect x="390" y="947" width="5" height="8" fill="#badfdc"/>
<rect x="397" y="946" width="4" height="9" fill="#52a49a"/>
<rect x="403" y="947" width="4" height="8" fill="#badfdc"/>
<rect x="409" y="949" width="5" height="6" fill="#badfdc"/>
<rect x="416" y="949" width="4" height="6" fill="#52a49a"/>
<rect x="422" y="949" width="4" height="6" fill="#badfdc"/>
<rect x="428" y="950" width="5" height="5" fill="#badfdc"/>
<rect x="435" y="948" width="4" height="7" fill="#52a49a"/>
<rect x="441" y="951" width="4" height="4" fill="#badfdc"/>
<rect x="447" y="953" width="5" height="3" fill="#ee5e56"/>
<rect x="454" y="951" width="4" height="4" fill="#52a49a"/>
<rect x="460" y="953" width="4" height="3" fill="#ee5e56"/>
<rect x="466" y="953" width="5" height="2" fill="#f9ccd0"/>
<rect x="473" y="953" width="4" height="5" fill="#ee5e56"/>
<rect x="479" y="953" width="4" height="6" fill="#ee5e56"/>
<rect x="485" y="953" width="5" height="12" fill="#ee5e56"/>
<rect x="492" y="953" width="4" height="14" fill="#ee5e56"/>
<rect x="498" y="953" width="4" height="19" fill="#ee5e56"/>
<rect x="504" y="953" width="5" height="19" fill="#f9ccd0"/>
<rect x="511" y="953" width="4" height="17" fill="#f9ccd0"/>
<rect x="517" y="953" width="4" height="12" fill="#f9ccd0"/>
<rect x="523" y="953" width="5" height="9" fill="#f9ccd0"/>
<rect x="530" y="953" width="4" height="11" fill="#ee5e56"/>
<rect x="536" y="953" width="5" height="4" fill="#f9ccd0"/>
<rect x="542" y="953" width="5" height="2" fill="#52a49a"/>
<rect x="549" y="953" width="4" height="3" fill="#ee5e56"/>
<rect x="555" y="953" width="5" height="3" fill="#f9ccd0"/>
<rect x="562" y="952" width="4" height="3" fill="#52a49a"/>
<rect x="568" y="953" width="4" height="2" fill="#52a49a"/>
<rect x="574" y="953" width="5" height="6" fill="#ee5e56"/>
<rect x="581" y="953" width="4" height="9" fill="#ee5e56"/>
<rect x="587" y="953" width="4" height="12" fill="#ee5e56"/>
<rect x="593" y="953" width="5" height="17" fill="#ee5e56"/>
<rect x="600" y="953" width="4" height="16" fill="#f9ccd0"/>
<rect x="606" y="953" width="4" height="17" fill="#ee5e56"/>
<rect x="612" y="953" width="5" height="14" fill="#f9ccd0"/>
<rect x="619" y="953" width="4" height="13" fill="#f9ccd0"/>
<rect x="625" y="953" width="4" height="11" fill="#f9ccd0"/>
<rect x="631" y="953" width="5" height="9" fill="#f9ccd0"/>
<rect x="638" y="953" width="4" height="4" fill="#f9ccd0"/>
<rect x="644" y="953" width="4" height="4" fill="#ee5e56"/>
<rect x="650" y="953" width="5" height="2" fill="#f9ccd0"/>
<rect x="657" y="953" width="4" height="2" fill="#ee5e56"/>
<rect x="663" y="953" width="4" height="3" fill="#ee5e56"/>
<rect x="669" y="953" width="5" height="4" fill="#ee5e56"/>
<rect x="676" y="953" width="4" height="11" fill="#ee5e56"/>
<rect x="682" y="953" width="4" height="14" fill="#ee5e56"/>
<rect x="688" y="953" width="5" height="13" fill="#f9ccd0"/>
<rect x="695" y="953" width="4" height="14" fill="#ee5e56"/>
<rect x="701" y="953" width="4" height="14" fill="#ee5e56"/>
<rect x="707" y="953" width="5" height="9" fill="#f9ccd0"/>
<rect x="714" y="953" width="4" height="7" fill="#f9ccd0"/>
<rect x="720" y="953" width="4" height="3" fill="#f9ccd0"/>
<rect x="726" y="949" width="5" height="6" fill="#52a49a"/>
<rect x="733" y="943" width="4" height="12" fill="#52a49a"/>
<rect x="739" y="943" width="4" height="12" fill="#52a49a"/>
<rect x="745" y="939" width="5" height="16" fill="#52a49a"/>
<rect x="752" y="937" width="4" height="18" fill="#52a49a"/>
<rect x="758" y="937" width="4" height="18" fill="#52a49a"/>
<rect x="764" y="937" width="5" height="18" fill="#52a49a"/>
<rect x="771" y="937" width="4" height="18" fill="#badfdc"/>
<rect x="777" y="937" width="4" height="18" fill="#badfdc"/>
<rect x="783" y="940" width="5" height="15" fill="#badfdc"/>
<rect x="790" y="951" width="4" height="4" fill="#badfdc"/>
<rect x="796" y="953" width="4" height="9" fill="#ee5e56"/>
<rect x="802" y="953" width="5" height="15" fill="#ee5e56"/>
<rect x="809" y="953" width="4" height="19" fill="#ee5e56"/>
<rect x="815" y="953" width="4" height="23" fill="#ee5e56"/>
<rect x="821" y="953" width="5" height="20" fill="#f9ccd0"/>
<rect x="828" y="953" width="4" height="18" fill="#f9ccd0"/>
<rect x="834" y="953" width="4" height="17" fill="#f9ccd0"/>
<rect x="840" y="953" width="5" height="15" fill="#f9ccd0"/>
<rect x="847" y="953" width="4" height="11" fill="#f9ccd0"/>
<rect x="853" y="953" width="4" height="8" fill="#f9ccd0"/>
<rect x="859" y="952" width="5" height="3" fill="#52a49a"/>
<rect x="866" y="948" width="4" height="7" fill="#52a49a"/>
<rect x="872" y="942" width="4" height="13" fill="#52a49a"/>
<rect x="878" y="939" width="5" height="16" fill="#52a49a"/>
<rect x="885" y="938" width="4" height="17" fill="#52a49a"/>
<rect x="891" y="937" width="4" height="18" fill="#52a49a"/>
<rect x="897" y="940" width="5" height="15" fill="#badfdc"/>
<rect x="904" y="942" width="4" height="13" fill="#badfdc"/>
<rect x="910" y="943" width="4" height="12" fill="#badfdc"/>
<rect x="916" y="943" width="5" height="12" fill="#badfdc"/>
<rect x="923" y="945" width="4" height="10" fill="#badfdc"/>
<rect x="929" y="944" width="4" height="11" fill="#52a49a"/>
<rect x="935" y="949" width="5" height="6" fill="#badfdc"/>
<rect x="942" y="953" width="4" height="4" fill="#ee5e56"/>
<rect x="948" y="953" width="4" height="17" fill="#ee5e56"/>
<rect x="954" y="953" width="5" height="25" fill="#ee5e56"/>
<rect x="961" y="953" width="4" height="31" fill="#ee5e56"/>
<rect x="967" y="953" width="4" height="36" fill="#ee5e56"/>
<rect x="973" y="953" width="5" height="36" fill="#ee5e56"/>
<rect x="980" y="953" width="4" height="29" fill="#f9ccd0"/>
<rect x="986" y="953" width="5" height="21" fill="#f9ccd0"/>
<rect x="992" y="953" width="5" height="16" fill="#f9ccd0"/>
<rect x="999" y="953" width="4" height="11" fill="#f9ccd0"/>
<rect x="1005" y="953" width="5" height="6" fill="#f9ccd0"/>
<rect x="1012" y="953" width="4" height="6" fill="#ee5e56"/>
<rect x="1018" y="953" width="4" height="9" fill="#ee5e56"/>
<rect x="1024" y="953" width="5" height="5" fill="#f9ccd0"/>
<rect x="1031" y="953" width="4" height="3" fill="#f9ccd0"/>
<rect x="1037" y="949" width="4" height="6" fill="#52a49a"/>
<rect x="1043" y="947" width="5" height="8" fill="#52a49a"/>
<rect x="1050" y="949" width="4" height="6" fill="#badfdc"/>
<rect x="1056" y="949" width="4" height="6" fill="#badfdc"/>
<rect x="1062" y="952" width="5" height="3" fill="#badfdc"/>
<rect x="1069" y="951" width="4" height="4" fill="#52a49a"/>
<rect x="1075" y="951" width="4" height="4" fill="#52a49a"/>
<rect x="1081" y="947" width="5" height="8" fill="#52a49a"/>
<rect x="1088" y="942" width="4" height="13" fill="#52a49a"/>
<rect x="1094" y="938" width="4" height="17" fill="#52a49a"/>
<rect x="1100" y="940" width="5" height="15" fill="#badfdc"/>
<rect x="1107" y="942" width="4" height="13" fill="#badfdc"/>
<rect x="1113" y="940" width="4" height="15" fill="#52a49a"/>
<rect x="1119" y="946" width="5" height="9" fill="#badfdc"/>
<rect x="1126" y="948" width="4" height="7" fill="#badfdc"/>
<rect x="1132" y="951" width="4" height="4" fill="#badfdc"/>
<rect x="1138" y="953" width="5" height="2" fill="#ee5e56"/>
<rect x="1145" y="953" width="4" height="3" fill="#ee5e56"/>
<rect x="1151" y="948" width="4" height="7" fill="#52a49a"/>
<rect x="1157" y="945" width="5" height="10" fill="#52a49a"/>
<rect x="1164" y="941" width="4" height="14" fill="#52a49a"/>
<rect x="1170" y="940" width="4" height="15" fill="#52a49a"/>
<rect x="1176" y="941" width="5" height="14" fill="#badfdc"/>
<rect x="1183" y="939" width="4" height="16" fill="#52a49a"/>
<rect x="1189" y="939" width="4" height="16" fill="#52a49a"/>
<rect x="1195" y="946" width="5" height="9" fill="#badfdc"/>
<rect x="1202" y="949" width="4" height="6" fill="#badfdc"/>
<rect x="1208" y="952" width="4" height="3" fill="#badfdc"/>
<rect x="1214" y="952" width="5" height="3" fill="#badfdc"/>
<rect x="1221" y="951" width="4" height="4" fill="#52a49a"/>
<rect x="1227" y="948" width="4" height="7" fill="#52a49a"/>
<rect x="1233" y="948" width="5" height="7" fill="#52a49a"/>
<rect x="1240" y="948" width="4" height="7" fill="#52a49a"/>
<rect x="1246" y="950" width="4" height="5" fill="#badfdc"/>
<rect x="1252" y="951" width="5" height="4" fill="#badfdc"/>
<rect x="1259" y="950" width="4" height="5" fill="#52a49a"/>
<rect x="1265" y="950" width="4" height="5" fill="#52a49a"/>
<rect x="1271" y="953" width="5" height="2" fill="#badfdc"/>
<rect x="1278" y="953" width="4" height="3" fill="#ee5e56"/>
<rect x="1284" y="953" width="4" height="3" fill="#ee5e56"/>
<rect x="1290" y="953" width="5" height="5" fill="#ee5e56"/>
<rect x="1297" y="953" width="4" height="6" fill="#ee5e56"/>
<rect x="1303" y="953" width="4" height="8" fill="#ee5e56"/>
<rect x="1309" y="953" width="5" height="5" fill="#f9ccd0"/>
<rect x="1316" y="953" width="4" height="2" fill="#52a49a"/>
<rect x="1322" y="953" width="4" height="2" fill="#ee5e56"/>
<rect x="1328" y="952" width="5" height="3" fill="#52a49a"/>
<rect x="1335" y="951" width="4" height="4" fill="#52a49a"/>
<rect x="1341" y="953" width="4" height="2" fill="#badfdc"/>
<rect x="1347" y="952" width="5" height="3" fill="#52a49a"/>
<rect x="1354" y="950" width="4" height="5" fill="#52a49a"/>
<rect x="1360" y="950" width="4" height="5" fill="#badfdc"/>
<rect x="1366" y="953" width="5" height="3" fill="#ee5e56"/>
<rect x="1373" y="953" width="4" height="6" fill="#ee5e56"/>
<rect x="1379" y="953" width="4" height="11" fill="#ee5e56"/>
<rect x="1385" y="953" width="5" height="9" fill="#f9ccd0"/>
<rect x="1392" y="953" width="4" height="14" fill="#ee5e56"/>
<rect x="1398" y="953" width="4" height="20" fill="#ee5e56"/>
<rect x="1404" y="953" width="5" height="23" fill="#ee5e56"/>
<rect x="1411" y="953" width="4" height="24" fill="#ee5e56"/>
<rect x="1417" y="953" width="4" height="21" fill="#f9ccd0"/>
<rect x="1423" y="953" width="5" height="19" fill="#f9ccd0"/>
<rect x="1430" y="953" width="4" height="19" fill="#f9ccd0"/>
<rect x="1436" y="953" width="5" height="12" fill="#f9ccd0"/>
<rect x="1442" y="953" width="5" height="6" fill="#f9ccd0"/>
<rect x="1449" y="953" width="4" height="2" fill="#52a49a"/>
<rect x="1455" y="950" width="5" height="5" fill="#52a49a"/>
<rect x="1461" y="949" width="5" height="6" fill="#52a49a"/>
<line x1="0" y1="954" x2="1960" y2="954" stroke="rgb(88,93,110)" stroke-opacity="0.45" stroke-width="2" stroke-dasharray="10 12" stroke-dashoffset="6"/>
<polyline fill="none" stroke="#e9681e" stroke-width="1.9" stroke-linejoin="round" points="300.8,937.2 307.4,945.2 314.9,953.1 322.4,958.7 329.9,961.9 337.4,963.4 344.9,962.5 352.4,960.0 359.9,956.9 367.4,953.5 374.9,949.4 382.4,945.6 389.9,942.2 400.0,940.0 409.4,937.7 416.9,937.2"/>
<polyline fill="none" stroke="#e9681e" stroke-width="1.9" stroke-linejoin="round" points="490.0,937.2 497.5,940.9 505.0,946.6 512.5,951.2 520.0,955.0 527.5,958.2 535.0,959.7 542.5,960.0 550.0,960.2 559.3,960.6 568.7,960.0 578.1,961.9 587.4,964.7 594.9,969.0 602.4,973.4 609.9,977.1 617.4,980.3 624.9,983.1 634.3,985.9 643.7,987.2 653.0,987.8 662.4,988.2 671.8,988.7 681.2,992.1 690.5,996.6 699.9,1000.9 709.3,1004.7 718.6,1006.2 726.1,1006.0 733.6,1002.8 742.1,1000.0 750.5,994.7 758.0,988.7 765.5,982.2 773.0,975.2 780.5,970.0 786.1,967.2 792.7,966.2 800.0,969.0 809.4,976.0 818.7,983.1 828.1,989.7 837.5,995.3 846.9,999.0 856.2,1000.9 865.6,1000.0 875.0,996.2 884.3,990.6 893.7,985.4 903.1,980.3 912.5,975.6 921.8,971.5 931.2,968.5 938.7,966.6 944.3,967.7 951.8,974.1 959.3,981.6 966.8,988.7 974.3,998.1 981.8,1006.9 989.3,1013.1 996.8,1017.2 1004.3,1018.7 1011.8,1019.7 1019.3,1022.1 1026.8,1023.0 1034.3,1022.5 1043.7,1020.6 1053.0,1018.7 1062.4,1017.4 1071.8,1016.5 1081.2,1015.3 1090.5,1011.2 1099.9,1005.6 1109.3,1000.5 1118.6,996.8 1128.0,994.7 1137.4,994.0 1146.8,994.0 1156.1,991.9 1165.5,986.9 1174.9,981.2 1184.2,976.0 1193.6,971.9 1200.0,970.6 1211.2,969.6 1222.5,968.5 1233.7,965.7 1245.0,963.4 1256.2,961.6 1265.6,960.2 1275.0,960.0 1284.3,961.0 1293.7,962.9 1303.1,964.7 1312.5,965.7 1321.8,965.3 1331.2,964.4 1340.6,963.8 1350.0,963.0 1359.3,961.2 1364.9,960.6 1372.4,961.9 1379.9,964.0 1387.4,966.6 1394.9,970.5 1402.4,976.9 1409.9,984.4 1417.4,989.7 1424.9,994.7 1432.4,999.4 1439.9,1001.9 1447.4,1002.4 1456.8,1001.5 1464.3,1000.5"/>
<polyline fill="none" stroke="#2b54f2" stroke-width="1.9" stroke-linejoin="round" points="276.5,937.2 284.9,948.8 291.5,952.2 298.0,962.5 304.6,974.1 310.2,978.8 316.8,977.5 323.3,976.0 329.9,974.1 335.5,971.9 342.1,965.3 348.6,955.0 355.2,950.7 361.8,947.1 368.3,940.0 372.0,937.2"/>
<polyline fill="none" stroke="#2b54f2" stroke-width="1.9" stroke-linejoin="round" points="475.0,937.2 482.5,938.1 488.1,945.6 493.7,951.2 499.3,959.7 506.8,965.3 514.3,968.5 520.0,967.2 525.6,965.9 532.1,968.1 538.7,961.9 544.3,959.7 551.8,962.5 558.4,961.9 564.0,959.1 569.6,959.1 576.2,965.3 582.8,970.0 590.3,974.1 595.9,983.7 602.4,987.2 608.1,990.6 614.6,991.2 621.2,992.9 627.7,993.4 634.3,993.8 639.9,989.7 646.5,990.2 653.0,988.4 659.6,989.1 666.2,990.0 671.8,991.2 678.3,1000.0 684.0,1006.0 690.5,1007.8 697.1,1012.2 703.7,1015.5 710.2,1012.5 716.8,1010.7 723.3,1008.0 729.0,999.0 734.6,991.2 742.1,988.4 748.6,980.3 755.2,972.4 760.8,965.3 767.4,959.1 773.9,954.6 779.6,951.2 785.2,953.1 791.8,964.7 800.0,978.9 805.6,987.8 812.2,996.2 817.8,1002.4 823.4,1004.7 830.0,1006.5 835.6,1009.7 841.2,1010.8 848.7,1009.0 856.2,1007.5 861.9,1000.0 868.4,992.5 875.0,983.1 881.5,976.5 888.1,971.3 894.7,968.1 902.2,967.2 909.7,965.3 917.2,962.1 923.7,961.6 931.2,958.7 937.8,961.9 944.3,970.0 950.0,984.0 956.5,1000.0 963.1,1014.0 969.6,1025.3 976.2,1035.2 981.8,1035.0 988.4,1031.5 994.9,1030.3 1001.5,1026.8 1008.1,1023.4 1013.7,1024.3 1020.2,1029.6 1025.9,1026.2 1032.4,1024.3 1038.0,1016.8 1044.6,1014.0 1051.2,1013.5 1057.7,1012.5 1064.3,1015.9 1069.9,1014.0 1075.5,1013.5 1083.0,1008.4 1089.6,999.0 1096.2,991.5 1101.8,990.2 1108.3,988.7 1115.8,984.0 1121.5,987.8 1128.0,988.7 1134.6,991.0 1140.2,994.4 1145.8,995.3 1152.4,988.7 1158.9,981.6 1165.5,974.7 1172.1,970.4 1178.6,967.7 1185.2,962.1 1191.8,958.7 1197.4,963.4 1200.0,964.7 1207.5,967.2 1215.0,968.1 1222.5,965.9 1230.0,961.6 1241.2,958.2 1252.5,959.7 1260.0,957.2 1267.5,956.3 1278.7,962.1 1290.0,965.3 1299.3,969.0 1305.9,970.9 1312.5,969.0 1320.0,965.3 1329.3,962.5 1338.7,961.6 1349.0,961.0 1355.6,957.8 1362.1,957.2 1368.7,963.4 1375.3,968.1 1381.8,973.7 1387.4,975.2 1394.0,983.1 1400.6,993.4 1406.2,1000.9 1412.7,1007.5 1419.3,1009.9 1424.9,1012.5 1431.5,1015.9 1436.2,1014.0 1442.7,1008.4 1449.3,1002.8 1456.8,998.7 1464.3,995.9"/>
<line x1="917.7" y1="1042.2" x2="1078.3" y2="1034.0" stroke="#000" stroke-width="2.0" />
<line x1="1385.9" y1="1018.2" x2="1547.0" y2="1010.0" stroke="#000" stroke-width="2.0" />
<text transform="translate(1232.5,1026.6) rotate(-2.93)" x="0" y="11.2" text-anchor="middle" font-size="31.5" font-weight="700" fill="#000" textLength="286" lengthAdjust="spacingAndGlyphs">Bullish Divergence</text>
</g>
<line x1="1304.9" y1="0" x2="1304.9" y2="1063" stroke="#868993" stroke-width="2" stroke-dasharray="10 12" stroke-dashoffset="6"/>
<line x1="0" y1="447.9" x2="1916" y2="447.9" stroke="#868993" stroke-width="2" stroke-dasharray="10 12" stroke-dashoffset="6"/>
<g fill="#131313">
<path d="M18.2 1006.2H44V1035.6H30V1018.2H18.2Z"/>
<circle cx="51.5" cy="1011.8" r="5.7"/>
<path d="M61.9 1006.2H77.4L65.6 1035.6H51.5Z"/>
<text x="91.8" y="1035.6" font-size="41" font-weight="700" textLength="241.8" lengthAdjust="spacingAndGlyphs">TradingView</text>
</g>
<text x="1977.8" y="161.3" font-size="23" fill="#131722" stroke="#131722" stroke-width="0.3" style="letter-spacing:0.9px" textLength="141.7" lengthAdjust="spacingAndGlyphs">10.6000000</text>
<text x="1977.8" y="265.8" font-size="23" fill="#131722" stroke="#131722" stroke-width="0.3" style="letter-spacing:0.9px" textLength="141.7" lengthAdjust="spacingAndGlyphs">10.2000000</text>
<text x="1976.6" y="374.6" font-size="23" fill="#131722" stroke="#131722" stroke-width="0.3" style="letter-spacing:0.9px" textLength="127.2" lengthAdjust="spacingAndGlyphs">9.8000000</text>
<text x="1976.6" y="487.3" font-size="23" fill="#131722" stroke="#131722" stroke-width="0.3" style="letter-spacing:0.9px" textLength="127.2" lengthAdjust="spacingAndGlyphs">9.4000000</text>
<text x="1976.6" y="576.0" font-size="23" fill="#131722" stroke="#131722" stroke-width="0.3" style="letter-spacing:0.9px" textLength="127.2" lengthAdjust="spacingAndGlyphs">9.1000000</text>
<text x="1976.6" y="636.3" font-size="23" fill="#131722" stroke="#131722" stroke-width="0.3" style="letter-spacing:0.9px" textLength="127.2" lengthAdjust="spacingAndGlyphs">8.9000000</text>
<text x="1976.6" y="697.8" font-size="23" fill="#131722" stroke="#131722" stroke-width="0.3" style="letter-spacing:0.9px" textLength="127.2" lengthAdjust="spacingAndGlyphs">8.7000000</text>
<text x="1976.6" y="761.3" font-size="23" fill="#131722" stroke="#131722" stroke-width="0.3" style="letter-spacing:0.9px" textLength="127.2" lengthAdjust="spacingAndGlyphs">8.5000000</text>
<text x="1976.6" y="825.8" font-size="23" fill="#131722" stroke="#131722" stroke-width="0.3" style="letter-spacing:0.9px" textLength="127.2" lengthAdjust="spacingAndGlyphs">8.3000000</text>
<text x="1976.6" y="892.3" font-size="23" fill="#131722" stroke="#131722" stroke-width="0.3" style="letter-spacing:0.9px" textLength="127.2" lengthAdjust="spacingAndGlyphs">8.1000000</text>
<text x="1976.6" y="962.1" font-size="23" fill="#131722" stroke="#131722" stroke-width="0.3" style="letter-spacing:0.9px" textLength="127.2" lengthAdjust="spacingAndGlyphs">0.0000000</text>
<text x="1976.6" y="1055.5" font-size="23" fill="#131722" stroke="#131722" stroke-width="0.3" style="letter-spacing:0.9px" textLength="141.7" lengthAdjust="spacingAndGlyphs">−0.2000000</text>
<path d="M1960 192.9H2126.3Q2130.3 192.9 2130.3 196.9V222.7Q2130.3 226.7 2126.3 226.7H1960Z" fill="#000"/>
<text x="1977.8" y="217.9" font-size="23" fill="#fff" stroke="#fff" stroke-width="0.3" style="letter-spacing:0.9px" textLength="141.7" lengthAdjust="spacingAndGlyphs">10.3755218</text>
<path d="M1960 400.1H2112.2Q2116.2 400.1 2116.2 404.1V430.6Q2116.2 434.6 2112.2 434.6H1960Z" fill="#000"/>
<text x="1976.6" y="425.2" font-size="23" fill="#fff" stroke="#fff" stroke-width="0.3" style="letter-spacing:0.9px" textLength="127.2" lengthAdjust="spacingAndGlyphs">9.6143165</text>
<path d="M1960 427.1H2112.2Q2116.2 427.1 2116.2 431.1V464.70000000000005Q2116.2 468.70000000000005 2112.2 468.70000000000005H1960Z" fill="#131722"/>
<text x="1976.6" y="456.2" font-size="23" fill="#fff" stroke="#fff" stroke-width="0.3" style="letter-spacing:0.9px" textLength="127.2" lengthAdjust="spacingAndGlyphs">9.5064960</text>
<path d="M1920.2 427.1H1957.9V468.70000000000005H1920.2Q1916.2 468.70000000000005 1916.2 464.70000000000005V431.1Q1916.2 427.1 1920.2 427.1Z" fill="#131722"/>
<circle cx="1937" cy="447.9" r="13.8" fill="none" stroke="#fff" stroke-width="2"/>
<path d="M1928.8 447.9H1945.2M1937 439.7V456.1" stroke="#fff" stroke-width="2" fill="none"/>
<path d="M1960 567H2112.2Q2116.2 567 2116.2 571V597Q2116.2 601 2112.2 601H1960Z" fill="#68ac5c"/>
<text x="1976.6" y="592.3" font-size="23" fill="#fff" stroke="#fff" stroke-width="0.3" style="letter-spacing:0.9px" textLength="127.2" lengthAdjust="spacingAndGlyphs">9.0407815</text>
<path d="M1960 763H2112.2Q2116.2 763 2116.2 767V793Q2116.2 797 2112.2 797H1960Z" fill="#46967f"/>
<text x="1976.6" y="788.1" font-size="23" fill="#fff" stroke="#fff" stroke-width="0.3" style="letter-spacing:0.9px" textLength="127.2" lengthAdjust="spacingAndGlyphs">8.4146800</text>
<text x="75.8" y="1102" font-size="23" fill="#131722" stroke="#131722" stroke-width="0.3" style="letter-spacing:0.9px" textLength="13.4" lengthAdjust="spacingAndGlyphs">8</text>
<text x="227.8" y="1102" font-size="23" fill="#131722" stroke="#131722" stroke-width="0.3" style="letter-spacing:0.9px" textLength="13.4" lengthAdjust="spacingAndGlyphs">9</text>
<text x="525.5" y="1102" font-size="23" fill="#131722" stroke="#131722" stroke-width="0.3" style="letter-spacing:0.9px" textLength="27.9" lengthAdjust="spacingAndGlyphs">11</text>
<text x="677.5" y="1102" font-size="23" fill="#131722" stroke="#131722" stroke-width="0.3" style="letter-spacing:0.9px" textLength="27.9" lengthAdjust="spacingAndGlyphs">12</text>
<text x="816.5" y="1102" font-size="23" fill="#131722" stroke="#131722" stroke-width="0.3" style="letter-spacing:0.9px" textLength="27.9" lengthAdjust="spacingAndGlyphs">13</text>
<text x="968.5" y="1102" font-size="23" fill="#131722" stroke="#131722" stroke-width="0.3" style="letter-spacing:0.9px" textLength="27.9" lengthAdjust="spacingAndGlyphs">14</text>
<text x="1120.5" y="1102" font-size="23" fill="#131722" stroke="#131722" stroke-width="0.3" style="letter-spacing:0.9px" textLength="27.9" lengthAdjust="spacingAndGlyphs">15</text>
<text x="1577.5" y="1102" font-size="23" fill="#131722" stroke="#131722" stroke-width="0.3" style="letter-spacing:0.9px" textLength="27.9" lengthAdjust="spacingAndGlyphs">18</text>
<text x="1729.5" y="1102" font-size="23" fill="#131722" stroke="#131722" stroke-width="0.3" style="letter-spacing:0.9px" textLength="27.9" lengthAdjust="spacingAndGlyphs">19</text>
<text x="1881.5" y="1102" font-size="23" fill="#131722" stroke="#131722" stroke-width="0.3" style="letter-spacing:0.9px" textLength="27.9" lengthAdjust="spacingAndGlyphs">20</text>
<text x="373.5" y="1102" font-size="23" fill="#131722" stroke="#131722" stroke-width="0.3" font-weight="700" style="letter-spacing:0.9px" textLength="27.9" lengthAdjust="spacingAndGlyphs">10</text>
<path d="M1154.8 1064H1455V1108Q1455 1112 1451 1112H1158.8Q1154.8 1112 1154.8 1108Z" fill="#131722"/>
<text x="1174" y="1101" font-size="23" fill="#fff" textLength="173" lengthAdjust="spacing">Sun 16 Nov '25</text>
<text x="1369.7" y="1101" font-size="23" fill="#fff" textLength="65.7" lengthAdjust="spacing">03:00</text>
<polygon points="2063.3,1093.0 2056.1,1105.6 2041.6,1105.6 2034.3,1093.0 2041.6,1080.4 2056.1,1080.4" fill="none" stroke="#131722" stroke-width="2.2" stroke-linejoin="round"/>
<circle cx="2048.8" cy="1093" r="4.6" fill="none" stroke="#131722" stroke-width="2.2"/>
<circle cx="29.9" cy="26.1" r="17.9" fill="#1a1c22"/>
<path d="M20 19.9L21.1 18.2Q26 21 30 21.2Q34 21 38.7 18.2L40 20.3L32.6 25.6L40 31.2L38.9 33.6Q34 30.6 30 30.3Q26 30.6 21.1 33.8L20 31.5L27.4 25.6Z" fill="#7ef4dd"/>
<text x="57" y="37.3" font-size="30.5" fill="#131722" textLength="318" lengthAdjust="spacing">EGLD / US Dollar · 1h ·</text>
<rect x="11" y="57" width="56" height="40" rx="6" fill="#fff" stroke="#e0e0e0" stroke-width="2"/>
<polyline points="30,73.7 38.6,80.6 47,73.7" fill="none" stroke="#000" stroke-width="3" />
<rect x="1847" y="3" width="46" height="46" rx="8" fill="#fff" stroke="#ebebeb" stroke-width="1.6"/>
<path d="M1869.8 17.9V34.5M1862 27.8L1869.8 35L1877.8 27.8" stroke="#000" stroke-width="2" fill="none"/>
<rect x="1903" y="3" width="46" height="46" rx="8" fill="#fff" stroke="#ebebeb" stroke-width="1.6"/>
<path d="M1915.2 23.5V21Q1915.2 16 1920.2 16H1931.8Q1936.8 16 1936.8 21V23.5M1936.8 28.2V31Q1936.8 36 1931.8 36H1920.2Q1915.2 36 1915.2 31V28.2" stroke="#000" stroke-width="2" fill="none"/>
<rect x="1967" y="3" width="161.5" height="50" rx="8" fill="#fff" stroke="#ebebeb" stroke-width="1.6"/>
<text x="1975.2" y="36.7" font-size="23" fill="#131722" textLength="48.2" lengthAdjust="spacing">USD</text>
<polyline points="2109.4,25.4 2115.1,31 2120.6,25.4" fill="none" stroke="#000" stroke-width="2.4"/>
</svg>
</body></html>
